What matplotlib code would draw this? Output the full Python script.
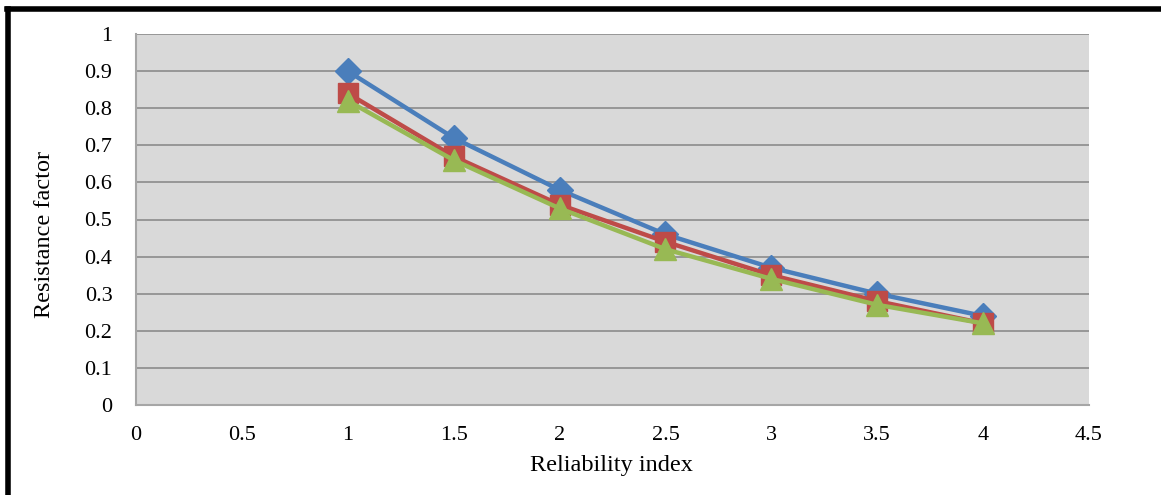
import matplotlib
matplotlib.use("Agg")
import matplotlib.pyplot as plt
from matplotlib.lines import Line2D

reliability = [1, 1.5, 2, 2.5, 3, 3.5, 4]
series_blue = [0.90, 0.72, 0.58, 0.46, 0.37, 0.30, 0.24]
series_red = [0.84, 0.67, 0.54, 0.44, 0.35, 0.28, 0.22]
series_green = [0.82, 0.66, 0.53, 0.42, 0.34, 0.27, 0.22]
x_ticks = [0, 0.5, 1, 1.5, 2, 2.5, 3, 3.5, 4, 4.5]
y_ticks = [0, 0.1, 0.2, 0.3, 0.4, 0.5, 0.6, 0.7, 0.8, 0.9, 1]

plt.rcParams['font.family'] = ['Liberation Serif', 'DejaVu Serif']

fig = plt.figure(figsize=(11.61, 4.95), dpi=100)
ax = fig.add_axes([136/1161, 1-405/495, (1089-136)/1161, (405-34)/495])
ax.set_facecolor('#d9d9d9')

ax.plot(reliability, series_blue, color='#4a7ebb', lw=3.2, marker='D', ms=13,
        markeredgecolor='#4a7ebb', zorder=3)
ax.plot(reliability, series_red, color='#be4b48', lw=3.2, marker='s', ms=15,
        markeredgecolor='#be4b48', zorder=4)
ax.plot(reliability, series_green, color='#98b954', lw=3.2, marker='^', ms=16,
        markeredgecolor='#98b954', zorder=5)

ax.set_xlim(0, 4.5)
ax.set_ylim(0, 1)
ax.set_xticks(x_ticks)
ax.set_xticklabels([f"{v:g}" for v in x_ticks])
ax.set_yticks(y_ticks)
ax.set_yticklabels([f"{v:g}" for v in y_ticks])
ax.tick_params(length=0, labelsize=16, pad=15)
ax.tick_params(axis='y', pad=17)
ax.grid(axis='y', color='#8c8c8c', lw=1.2)
ax.set_axisbelow(True)
for s in ['top', 'right']:
    ax.spines[s].set_visible(False)
for s in ['left', 'bottom']:
    ax.spines[s].set_color('#a6a6a6')
    ax.spines[s].set_linewidth(1.5)

ax.set_xlabel('Reliability index', fontsize=17.5)
ax.set_ylabel('Resistance factor', fontsize=17.5)
ax.xaxis.set_label_coords((611-136)/953, -(466-405)/371)
ax.yaxis.set_label_coords((45-136)/953, (405-234)/371)
ax.xaxis.label.set_va('center')
ax.yaxis.label.set_va('center')

# outer black frame (top and left)
fig.add_artist(Line2D([7/1161, 1.0], [1-8.5/495, 1-8.5/495], color='black', lw=4,
                      transform=fig.transFigure, solid_capstyle='projecting'))
fig.add_artist(Line2D([7.5/1161, 7.5/1161], [0, 1-8.5/495], color='black', lw=4,
                      transform=fig.transFigure, solid_capstyle='projecting'))

fig.savefig('out.png', dpi=100)
